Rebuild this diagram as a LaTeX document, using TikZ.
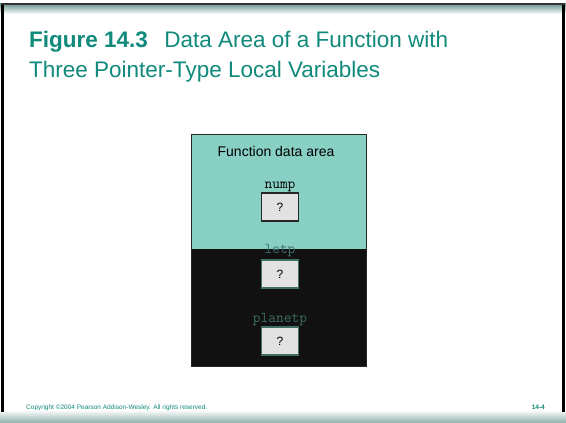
\documentclass[tikz,border=0pt]{standalone}
\usepackage{fontspec}
\setmainfont{Liberation Sans}
\usetikzlibrary{positioning}
\definecolor{titleteal}{HTML}{108A7A}
\definecolor{areateal}{HTML}{88D0C4}
\definecolor{areablack}{HTML}{111111}
\definecolor{cellgray}{HTML}{E2E2E2}
\definecolor{dimteal}{HTML}{3E6E64}
\definecolor{bandteal}{HTML}{5E8F86}

\tikzset{
  cell/.style={draw=#1, line width=1.4pt, fill=cellgray, minimum width=37pt, minimum height=28pt, inner sep=0pt, font=\fontsize{12}{12}\selectfont},
  varname/.style={text=#1, font=\ttfamily\fontsize{15}{15}\selectfont, inner sep=0pt, anchor=base},
  footnote/.style={text=titleteal, font=\fontsize{6.5}{7}\selectfont, inner sep=0pt, anchor=base west}
}

\begin{document}
\begin{tikzpicture}[x=1pt,y=-1pt]
  \useasboundingbox (0,0) rectangle (566,423);
  \fill[white] (0,0) rectangle (566,423);

  %%%%% slide frame %%%%%
  \shade[top color=bandteal, bottom color=white] (0,3) rectangle (566,14);
  \shade[top color=white, bottom color=bandteal!70] (0,410) rectangle (566,423);
  \fill[black] (1,3) rectangle (4,412);
  \fill[black] (562,3) rectangle (565,412);
  \fill[black!80] (1,3) rectangle (565,5);

  %%%%% title %%%%%
  \node[anchor=base west, inner sep=0pt, text=titleteal, align=left,
        font=\fontsize{22.5}{29}\selectfont] (title) at (29,77)
    {\textbf{Figure 14.3}\hspace{0.45em} Data Area of a Function with\\
     Three Pointer-Type Local Variables};

  %%%%% data area %%%%%
  \fill[areateal] (191,134) rectangle (366,249);
  \fill[areablack] (191,249) rectangle (366,366);
  \draw[black!85, line width=1pt] (191,134) rectangle (366,366);

  \node[anchor=base, inner sep=0pt, font=\fontsize{14}{14}\selectfont] (areaname) at (276,156) {Function data area};

  \node[varname=black] (nump) at (280,188) {nump};
  \node[cell=black!85] (numpcell) at (280,207) {?};

  \node[varname=dimteal] (letp) at (280,253) {letp};
  \node[cell=dimteal] (letpcell) at (280,274) {?};

  \node[varname=dimteal] (planetp) at (280,322) {planetp};
  \node[cell=dimteal] (planetpcell) at (280,341) {?};

  %%%%% footer %%%%%
  \node[footnote] (copy) at (26,409) {Copyright ©2004 Pearson Addison-Wesley. All rights reserved.};
  \node[footnote, anchor=base east, font=\bfseries\fontsize{6.5}{7}\selectfont] (pageno) at (545,409) {14-4};
\end{tikzpicture}
\end{document}
